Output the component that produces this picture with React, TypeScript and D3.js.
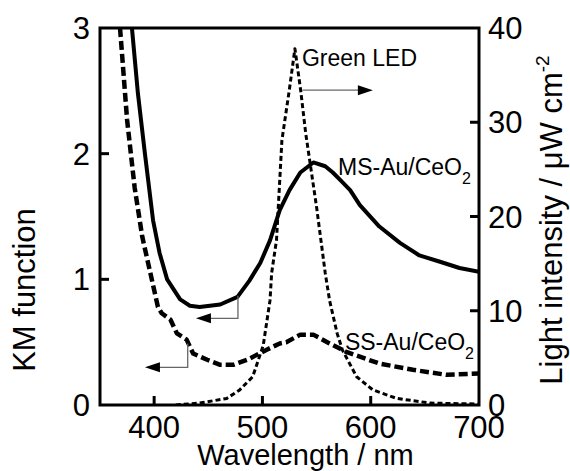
import { useEffect, useRef } from 'react';
import * as d3 from 'd3';

// MS-Au/CeO2 (solid), KM function
const wavelengthMS = [379.5, 385, 391.5, 399, 405, 412, 424, 433, 442, 461, 477, 488, 498, 507, 516, 525, 535, 547, 558, 565, 572, 581, 590, 608, 627, 645, 664, 682, 700];
const kmMS = [3.0, 2.48, 2.0, 1.47, 1.21, 1.0, 0.84, 0.79, 0.78, 0.8, 0.86, 0.99, 1.13, 1.31, 1.55, 1.71, 1.85, 1.93, 1.9, 1.85, 1.79, 1.71, 1.59, 1.42, 1.29, 1.19, 1.14, 1.09, 1.06];

// SS-Au/CeO2 (dashed), KM function
const wavelengthSS = [368.5, 375, 382, 389, 396, 403.5, 407, 415, 421, 430, 436, 449, 461, 473, 486, 504, 516, 522, 535, 547, 562, 578, 608, 639, 670, 700];
const kmSS = [3.0, 2.27, 1.73, 1.34, 1.07, 0.78, 0.73, 0.68, 0.57, 0.52, 0.41, 0.36, 0.32, 0.32, 0.36, 0.44, 0.49, 0.5, 0.56, 0.56, 0.49, 0.42, 0.33, 0.28, 0.24, 0.25];

// Green LED (dotted), light intensity / uW cm-2
const wavelengthLED = [420, 442, 467, 479, 491, 500.7, 507, 508.5, 513, 518, 524.8, 530, 535.3, 540, 550, 558, 562, 569, 574, 587, 602, 624, 655, 700];
const intensityLED = [0, 0.2, 0.7, 1.6, 3.0, 6.3, 11.1, 14, 17.5, 28.1, 33.4, 37.8, 33.4, 28.8, 21, 14, 11.1, 7.6, 5.8, 3.0, 1.6, 0.7, 0.2, 0.1];

const xTicks = [400, 500, 600, 700];
const yLeftTicks = [0, 1, 2, 3];
const yRightTicks = [0, 10, 20, 30, 40];

const FONT = '"Liberation Sans", Arial, sans-serif';

const App = () => {
  const svgRef = useRef<SVGSVGElement>(null!);
  const width = 570;
  const height = 471;

  useEffect(() => {
    document.body.style.margin = '0';
    const svg = d3.select(svgRef.current);
    svg.selectAll('*').remove();

    const x = d3.scaleLinear().domain([350, 700]).range([100, 479]);
    const yL = d3.scaleLinear().domain([0, 3]).range([405, 28]);
    const yR = d3.scaleLinear().domain([0, 40]).range([405, 28]);
    const [x0, x1] = x.range();
    const [yb, yt] = yL.range();

    svg
      .append('clipPath')
      .attr('id', 'plot')
      .append('rect')
      .attr('x', x0)
      .attr('y', yt)
      .attr('width', x1 - x0)
      .attr('height', yb - yt);

    const plot = svg.append('g').attr('clip-path', 'url(#plot)');

    const drawLine = (xs: number[], ys: number[], yScale: d3.ScaleLinear<number, number>, dash: string | null, w: number) => {
      const pts = xs.map((v, i) => [x(v), yScale(ys[i])] as [number, number]);
      plot
        .append('path')
        .attr('d', d3.line()(pts))
        .attr('fill', 'none')
        .attr('stroke', '#000')
        .attr('stroke-width', w)
        .attr('stroke-linejoin', 'round')
        .attr('stroke-dasharray', dash);
    };

    drawLine(wavelengthLED, intensityLED, yR, '5,3', 3);
    drawLine(wavelengthSS, kmSS, yL, '9,4', 4.5);
    drawLine(wavelengthMS, kmMS, yL, null, 4);

    // frame
    svg
      .append('rect')
      .attr('x', x0)
      .attr('y', yt)
      .attr('width', x1 - x0)
      .attr('height', yb - yt)
      .attr('fill', 'none')
      .attr('stroke', '#000')
      .attr('stroke-width', 3);

    const tickLen = 9;
    const axisG = svg.append('g').attr('stroke', '#000').attr('stroke-width', 3);
    xTicks.slice(0, 3).forEach(t => {
      axisG.append('line').attr('x1', x(t)).attr('x2', x(t)).attr('y1', yb).attr('y2', yb - tickLen);
    });
    yLeftTicks.slice(1, 3).forEach(t => {
      axisG.append('line').attr('x1', x0).attr('x2', x0 + tickLen).attr('y1', yL(t)).attr('y2', yL(t));
    });
    yRightTicks.slice(1, 4).forEach(t => {
      axisG.append('line').attr('x1', x1).attr('x2', x1 - tickLen).attr('y1', yR(t)).attr('y2', yR(t));
    });

    const txt = svg.append('g').attr('font-family', FONT).attr('fill', '#000');
    xTicks.forEach(t => {
      txt.append('text').attr('x', x(t)).attr('y', 438).attr('text-anchor', 'middle').attr('font-size', 31).text(t);
    });
    yLeftTicks.forEach(t => {
      txt.append('text').attr('x', 90).attr('y', yL(t)).attr('dy', '0.36em').attr('text-anchor', 'end').attr('font-size', 31).text(t);
    });
    yRightTicks.forEach(t => {
      txt.append('text').attr('x', 488).attr('y', yR(t)).attr('dy', '0.36em').attr('text-anchor', 'start').attr('font-size', 31).text(t);
    });

    txt
      .append('text')
      .attr('x', (x0 + x1) / 2 + 16)
      .attr('y', 465)
      .attr('text-anchor', 'middle')
      .attr('font-size', 29)
      .text('Wavelength / nm');

    txt
      .append('text')
      .attr('transform', 'translate(35,290) rotate(-90)')
      .attr('text-anchor', 'middle')
      .attr('font-size', 31)
      .text('KM function');

    const rt = txt
      .append('text')
      .attr('transform', 'translate(562,220) rotate(-90)')
      .attr('text-anchor', 'middle')
      .attr('font-size', 31);
    rt.append('tspan').text('Light intensity / \u03bcW cm');
    rt.append('tspan').attr('font-size', 19).attr('dy', -13).text('-2');

    // annotations
    const label = (lx: number, ly: number, main: string, sub: string | null) => {
      const t = txt.append('text').attr('x', lx).attr('y', ly).attr('font-size', 23);
      t.append('tspan').text(main);
      if (sub) t.append('tspan').attr('font-size', 16).attr('dy', 9).text(sub);
    };
    label(x(536.5), yR(36), 'Green LED', null);
    label(x(569.8), yL(1.83), 'MS-Au/CeO', '2');
    label(x(576.2), yL(0.44), 'SS-Au/CeO', '2');

    const ann = svg.append('g');
    const arrowHead = (tipX: number, tipY: number, dir: number) => {
      const L = 15;
      const h = 5;
      ann
        .append('path')
        .attr('d', `M${tipX},${tipY}L${tipX - dir * L},${tipY - h}L${tipX - dir * L},${tipY + h}Z`)
        .attr('fill', '#000');
    };
    const path = (d: string) =>
      ann.append('path').attr('d', d).attr('fill', 'none').attr('stroke', '#666').attr('stroke-width', 1.3);

    // Green LED -> right axis
    path(`M${x(537)},${yR(33.4)}H${x(602) - 12}`);
    arrowHead(x(602), yR(33.4), 1);
    // MS -> left axis
    path(`M${x(477.4)},${yL(0.87)}V${yL(0.69)}H${x(438.6) + 12}`);
    arrowHead(x(438.6), yL(0.69), -1);
    // SS -> left axis
    path(`M${x(431)},${yL(0.49)}V${yL(0.3)}H${x(391.5) + 12}`);
    arrowHead(x(391.5), yL(0.3), -1);
  }, []);

  return <svg ref={svgRef} width={width} height={height} style={{ display: 'block', background: '#fff' }} />;
};

export default App;
